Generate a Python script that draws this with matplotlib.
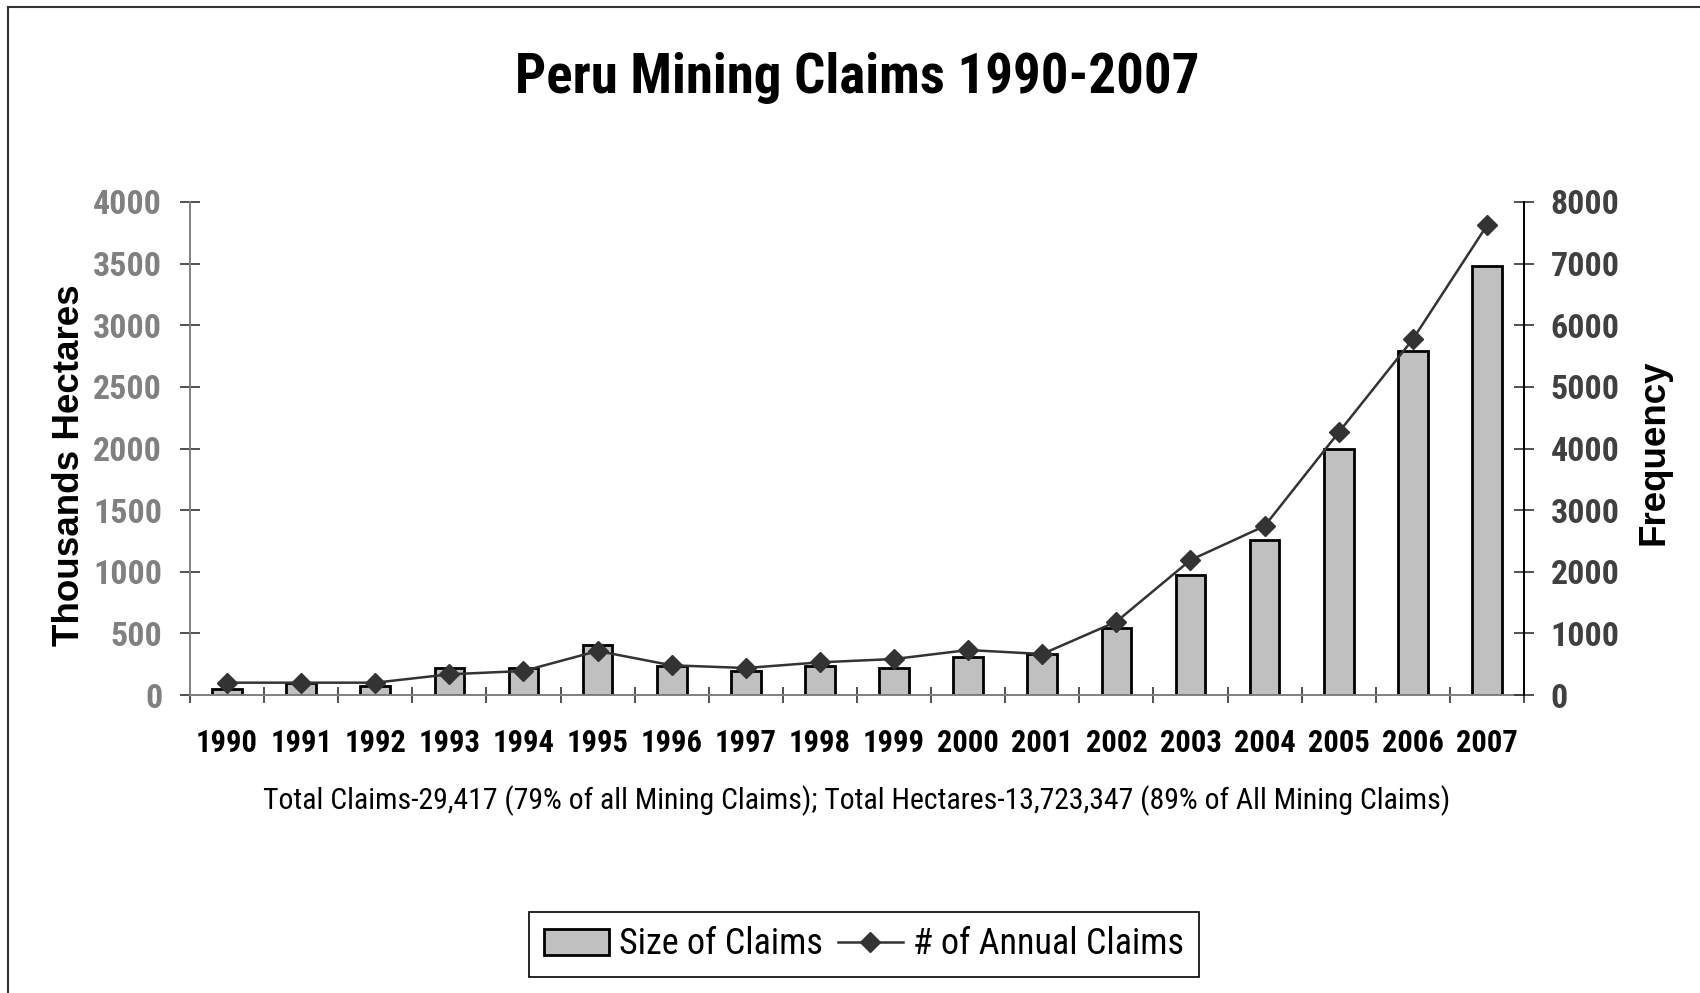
import numpy as np
import matplotlib
matplotlib.use("Agg")
import matplotlib.pyplot as plt
from matplotlib.patches import Patch
from matplotlib.lines import Line2D

years = ['1990', '1991', '1992', '1993', '1994', '1995', '1996', '1997', '1998',
         '1999', '2000', '2001', '2002', '2003', '2004', '2005', '2006', '2007']
# thousands of hectares (bars, left axis)
size_claims = [50, 95, 75, 220, 220, 405, 238, 195, 238,
               216, 308, 333, 546, 971, 1258, 1992, 2794, 3481]
# number of claims per year (line, right axis)
annual_claims = [200, 200, 200, 336, 390, 714, 482, 438, 530,
                 584, 730, 665, 1190, 2190, 2742, 4262, 5772, 7620]

left_ticks = [0, 500, 1000, 1500, 2000, 2500, 3000, 3500, 4000]
right_ticks = [0, 1000, 2000, 3000, 4000, 5000, 6000, 7000, 8000]

narrow = ['Roboto Condensed', 'PT Sans Narrow', 'Liberation Sans', 'DejaVu Sans']
wide = ['Liberation Sans', 'DejaVu Sans']

W, H = 1700, 993
fig = plt.figure(figsize=(W / 100, H / 100), dpi=100)
fig.patch.set_facecolor('white')

# outer frame (only left and top edges are visible in the original)
fig.add_artist(Line2D([8 / W, 8 / W], [0, 1 - 7 / H], color='#333333', lw=1.5,
                      transform=fig.transFigure))
fig.add_artist(Line2D([8 / W, 1], [1 - 7 / H, 1 - 7 / H], color='#333333', lw=1.5,
                      transform=fig.transFigure))

ax = fig.add_axes([190 / W, 1 - 695 / H, (1524 - 190) / W, (695 - 202) / H])
ax2 = ax.twinx()

x = np.arange(len(years))
ax.bar(x, size_claims, width=0.4, color='#c0c0c0', edgecolor='black', linewidth=2.0,
       zorder=2)
ax2.plot(x, annual_claims, color='#333333', lw=1.8, marker='D', ms=10.5,
         mfc='#333333', mec='#333333', zorder=3)

ax.set_xlim(-0.5, len(years) - 0.5)
ax.set_ylim(0, 4000)
ax2.set_ylim(0, 8000)
ax.set_yticks(left_ticks)
ax2.set_yticks(right_ticks)

# category ticks sit between the bars, labels centred under them
ax.set_xticks(np.arange(len(years) + 1) - 0.5)
ax.set_xticklabels([])
ax.set_xticks(x, minor=True)
ax.set_xticklabels(years, minor=True, fontsize=22, fontweight='bold',
                   family=narrow, color='black')
ax.tick_params(axis='x', which='major', direction='inout', length=12, width=1.2,
               color='#333333')
ax.tick_params(axis='x', which='minor', length=0, pad=24)

ax.tick_params(axis='y', direction='inout', length=14, width=1.2, color='#333333',
               pad=13)
for lab in ax.get_yticklabels():
    lab.set_fontsize(24.5)
    lab.set_fontweight('bold')
    lab.set_family(narrow)
    lab.set_color('#808080')

ax2.tick_params(axis='y', direction='inout', length=14, width=1.2, color='#333333',
                pad=12)
for lab in ax2.get_yticklabels():
    lab.set_fontsize(24.5)
    lab.set_fontweight('bold')
    lab.set_family(narrow)
    lab.set_color('#404040')

for a in (ax, ax2):
    a.spines['top'].set_visible(False)
    a.spines['left'].set_color('#808080')
    a.spines['bottom'].set_color('#808080')
    a.spines['right'].set_color('black')
    for s in a.spines.values():
        s.set_linewidth(1.4)
ax.spines['right'].set_visible(False)
ax2.spines['left'].set_visible(False)
ax2.spines['bottom'].set_visible(False)

fig.text(857 / W, 1 - 78 / H, 'Peru Mining Claims 1990-2007', ha='center', va='center',
         fontsize=39.5, fontweight='bold', family=narrow)
fig.text(70 / W, 1 - 465 / H, 'Thousands Hectares', rotation=90, ha='center',
         va='center', fontsize=26.5, fontweight='bold', family=wide)
fig.text(1654 / W, 1 - 452 / H, 'Frequency', rotation=90, ha='center', va='center',
         fontsize=26.5, fontweight='bold', family=wide)
fig.text(857 / W, 1 - 801 / H,
         'Total Claims-29,417 (79% of all Mining Claims); '
         'Total Hectares-13,723,347 (89% of All Mining Claims)',
         ha='center', va='center', fontsize=21.4, family=narrow)

handles = [Patch(facecolor='#c0c0c0', edgecolor='black', linewidth=2.0),
           Line2D([], [], color='#333333', lw=1.8, marker='D', ms=10.5)]
leg = fig.legend(handles, ['Size of Claims', '# of Annual Claims'], ncol=2,
                 loc='center', bbox_to_anchor=(864 / W, 1 - 944.5 / H),
                 prop={'family': narrow, 'size': 26}, frameon=True, fancybox=False,
                 edgecolor='black', framealpha=1, handlelength=1.8,
                 handletextpad=0.3, columnspacing=0.4, borderpad=0.4,
                 numpoints=1)
leg.get_frame().set_linewidth(1.2)

fig.savefig('out.png', dpi=100, facecolor='white')
